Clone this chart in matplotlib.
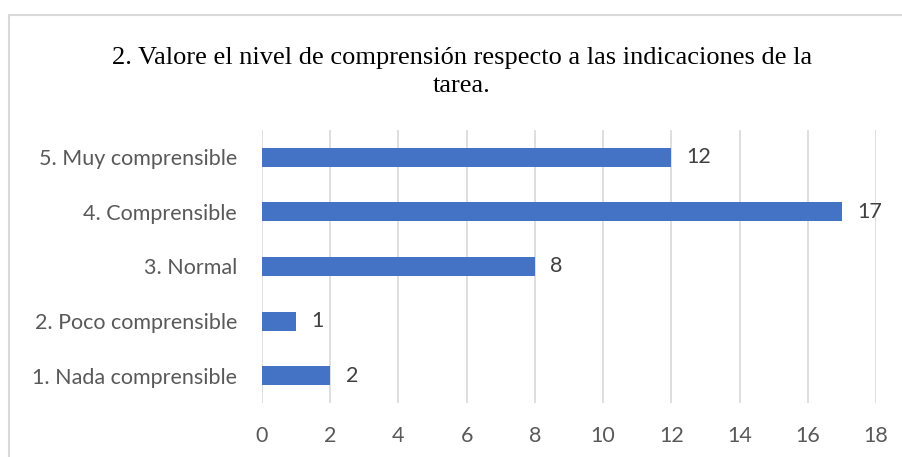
import matplotlib
matplotlib.use("Agg")
import matplotlib.pyplot as plt
from matplotlib.patches import Rectangle

categorias = ["1. Nada comprensible", "2. Poco comprensible", "3. Normal",
              "4. Comprensible", "5. Muy comprensible"]
valores = [2, 1, 8, 17, 12]
ticks_x = [0, 2, 4, 6, 8, 10, 12, 14, 16, 18]
titulo = "2. Valore el nivel de comprensión respecto a las indicaciones de la\ntarea."

fig = plt.figure(figsize=(9.02, 4.57), dpi=100)
ax = fig.add_axes([262 / 902, 54 / 457, 614 / 902, 273 / 457])

# marco del grafico (recortado a la derecha y abajo)
fig.patches.append(Rectangle((9 / 902, -0.1), 1.2, 1 - 15 / 457 + 0.1,
                             transform=fig.transFigure, fill=False,
                             edgecolor="#d9d9d9", linewidth=1.5))

pos = range(len(categorias))
ax.barh(pos, valores, height=0.35, color="#4472c4", zorder=3)
for i, v in zip(pos, valores):
    ax.text(v + 0.45, i, str(v), va="center", ha="left",
            fontsize=15.5, color="#404040", family="Lato")

ax.set_xlim(0, 18)
ax.set_ylim(-0.5, len(categorias) - 0.5)
ax.set_xticks(ticks_x)
ax.set_yticks(list(pos))
ax.set_yticklabels(categorias)
ax.grid(axis="x", color="#d9d9d9", linewidth=1.2, zorder=0)
for s in ax.spines.values():
    s.set_visible(False)
ax.tick_params(length=0, labelsize=15.5, labelcolor="#595959")
ax.tick_params(axis="y", pad=18)
ax.tick_params(axis="x", pad=16.5)
for lab in ax.get_xticklabels() + ax.get_yticklabels():
    lab.set_family("Lato")

fig.text(462 / 902, 1 - 72 / 457, titulo, ha="center", va="center",
         fontsize=19, family="Liberation Serif", color="#000000",
         linespacing=1.38)

fig.savefig("out.png", dpi=100)
